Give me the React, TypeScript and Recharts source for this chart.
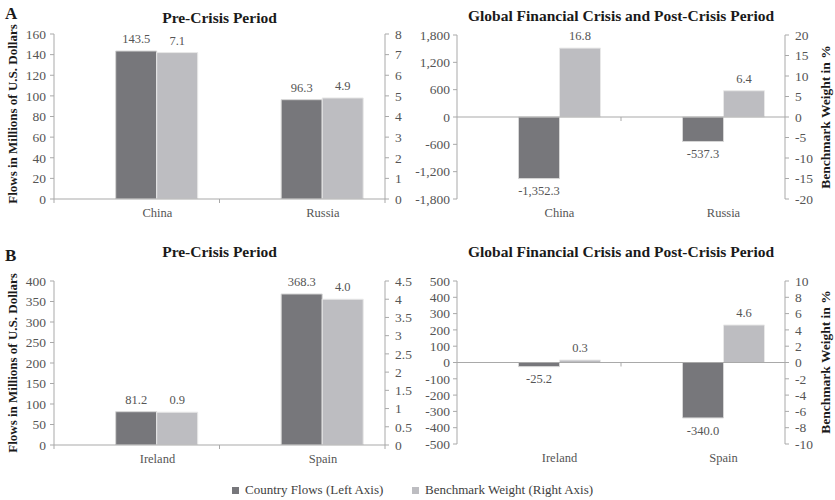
import React from 'react';
import { BarChart, Bar, XAxis, YAxis, LabelList, ReferenceLine } from 'recharts';

const FONT = '"Liberation Serif", "Times New Roman", serif';
const DARK = '#77777b';
const LIGHT = '#bdbdc1';
const AXIS = '#a9a9a9';
const TEXT = '#555555';

const seriesNames = ['Country Flows (Left Axis)', 'Benchmark Weight (Right Axis)'];
const panelLetters = ['A', 'B'];
const preTitle = 'Pre-Crisis Period';
const postTitle = 'Global Financial Crisis and Post-Crisis Period';
const leftAxisTitle = 'Flows in Millions of U.S. Dollars';
const rightAxisTitle = 'Benchmark Weight in %';

const countriesA = ['China', 'Russia'];
const flowsAPre = [143.5, 96.3];
const weightAPre = [7.1, 4.9];
const flowsAPost = [-1352.3, -537.3];
const weightAPost = [16.8, 6.4];

const countriesB = ['Ireland', 'Spain'];
const flowsBPre = [81.2, 368.3];
const weightBPre = [0.9, 4.0];
const flowsBPost = [-25.2, -340.0];
const weightBPost = [0.3, 4.6];

const ticksAPreLeft = [0, 20, 40, 60, 80, 100, 120, 140, 160];
const ticksAPreRight = [0, 1, 2, 3, 4, 5, 6, 7, 8];
const ticksAPostLeft = [-1800, -1200, -600, 0, 600, 1200, 1800];
const ticksAPostRight = [-20, -15, -10, -5, 0, 5, 10, 15, 20];
const ticksBPreLeft = [0, 50, 100, 150, 200, 250, 300, 350, 400];
const ticksBPreRight = [0, 0.5, 1, 1.5, 2, 2.5, 3, 3.5, 4, 4.5];
const ticksBPostLeft = [-500, -400, -300, -200, -100, 0, 100, 200, 300, 400, 500];
const ticksBPostRight = [-10, -8, -6, -4, -2, 0, 2, 4, 6, 8, 10];

const commaFmt = (v: any) => Number(v).toLocaleString('en-US');
const oneDec = (v: any) =>
  Number(v).toLocaleString('en-US', { minimumFractionDigits: 1, maximumFractionDigits: 1 });

type PanelProps = {
  left: number; top: number; W: number; H: number;
  plotLeft: number; plotRight: number; plotTop: number; plotBottom: number;
  categories: string[]; flows: number[]; weights: number[];
  leftTicks: number[]; rightTicks: number[]; crossesZero: boolean;
  leftMargin: number;
};

function Panel(p: PanelProps) {
  const data = p.categories.map((c, i) => ({ name: c, flows: p.flows[i], weight: p.weights[i] }));
  const band = (p.plotRight - p.plotLeft) / p.categories.length;
  const shift = band * 0.125;
  const lMin = p.leftTicks[0];
  const lMax = p.leftTicks[p.leftTicks.length - 1];
  const rMin = p.rightTicks[0];
  const rMax = p.rightTicks[p.rightTicks.length - 1];
  const zeroY = p.plotTop + ((p.plotBottom - p.plotTop) * lMax) / (lMax - lMin);
  const n = p.categories.length;

  const CatTick = (props: any) => {
    const { x, y, payload } = props;
    const idx = props.index ?? payload?.index ?? 0;
    const axisY = y - 9;
    return (
      <g>
        <text
          x={x + shift}
          y={y}
          dy="0.71em"
          textAnchor="middle"
          fill={TEXT}
          fontSize={12.5}
          fontFamily={FONT}
        >
          {payload.value}
        </text>
        {!p.crossesZero && (
          <line x1={x - band / 2} x2={x - band / 2} y1={axisY} y2={axisY + 4} stroke={AXIS} />
        )}
        {!p.crossesZero && idx === n - 1 && (
          <line x1={x + band / 2} x2={x + band / 2} y1={axisY} y2={axisY + 4} stroke={AXIS} />
        )}
        {p.crossesZero && idx < n - 1 && (
          <line x1={x + band / 2} x2={x + band / 2} y1={zeroY} y2={zeroY + 4} stroke={AXIS} />
        )}
      </g>
    );
  };

  const labelStyle = { fill: TEXT, fontSize: 12.5, fontFamily: FONT };

  return (
    <div style={{ position: 'absolute', left: p.left, top: p.top, width: p.W, height: p.H }}>
      <BarChart
        width={p.W}
        height={p.H}
        data={data}
        margin={{ top: p.plotTop, right: 0, bottom: 0, left: 0 }}
        barCategoryGap="12.5%"
        barGap={0}
      >
        <XAxis
          dataKey="name"
          xAxisId={0}
          height={p.H - p.plotBottom}
          interval={0}
          tickLine={false}
          tickSize={4}
          tickMargin={5}
          axisLine={p.crossesZero ? false : { stroke: AXIS }}
          tick={<CatTick />}
        />
        <YAxis
          yAxisId="left"
          orientation="left"
          type="number"
          width={p.plotLeft}
          domain={[lMin, lMax]}
          ticks={p.leftTicks}
          interval={0}
          allowDataOverflow
          tickFormatter={commaFmt}
          tick={{ fill: TEXT, fontSize: 13.5, fontFamily: FONT }}
          axisLine={{ stroke: AXIS }}
          tickLine={{ stroke: AXIS }}
          tickSize={4}
          tickMargin={p.leftMargin}
        />
        <YAxis
          yAxisId="right"
          orientation="right"
          type="number"
          width={p.W - p.plotRight}
          domain={[rMin, rMax]}
          ticks={p.rightTicks}
          interval={0}
          allowDataOverflow
          tick={{ fill: TEXT, fontSize: 13.5, fontFamily: FONT }}
          axisLine={{ stroke: AXIS }}
          tickLine={{ stroke: AXIS }}
          tickSize={4}
          tickMargin={6}
        />
        {p.crossesZero && <ReferenceLine y={0} yAxisId="left" stroke={AXIS} strokeWidth={1} />}
        <Bar dataKey="spacer" yAxisId="left" isAnimationActive={false} />
        <Bar dataKey="flows" yAxisId="left" fill={DARK} stroke="#d6d6d6" strokeWidth={1} isAnimationActive={false}>
          <LabelList dataKey="flows" position="top" offset={8} formatter={oneDec} style={labelStyle} />
        </Bar>
        <Bar dataKey="weight" yAxisId="right" fill={LIGHT} stroke="#e8e8e8" strokeWidth={1} isAnimationActive={false}>
          <LabelList dataKey="weight" position="top" offset={8} formatter={oneDec} style={labelStyle} />
        </Bar>
      </BarChart>
    </div>
  );
}

export default function App() {
  return (
    <div
      style={{
        position: 'absolute',
        left: 0,
        top: 0,
        width: 835,
        height: 500,
        background: '#ffffff',
        fontFamily: FONT,
      }}
    >
      <Panel
        left={0} top={0} W={415} H={240}
        plotLeft={54} plotRight={385} plotTop={34} plotBottom={199}
        categories={countriesA} flows={flowsAPre} weights={weightAPre}
        leftTicks={ticksAPreLeft} rightTicks={ticksAPreRight} crossesZero={false} leftMargin={4}
      />
      <Panel
        left={415} top={0} W={420} H={240}
        plotLeft={42} plotRight={370} plotTop={35} plotBottom={199}
        categories={countriesA} flows={flowsAPost} weights={weightAPost}
        leftTicks={ticksAPostLeft} rightTicks={ticksAPostRight} crossesZero={true} leftMargin={3}
      />
      <Panel
        left={0} top={240} W={415} H={235}
        plotLeft={54} plotRight={385} plotTop={41} plotBottom={205}
        categories={countriesB} flows={flowsBPre} weights={weightBPre}
        leftTicks={ticksBPreLeft} rightTicks={ticksBPreRight} crossesZero={false} leftMargin={4}
      />
      <Panel
        left={415} top={240} W={420} H={235}
        plotLeft={42} plotRight={370} plotTop={41} plotBottom={204}
        categories={countriesB} flows={flowsBPost} weights={weightBPost}
        leftTicks={ticksBPostLeft} rightTicks={ticksBPostRight} crossesZero={true} leftMargin={3}
      />
      <svg
        width={835}
        height={500}
        style={{ position: 'absolute', left: 0, top: 0, pointerEvents: 'none' }}
      >
        <g fontFamily={FONT} fill="#1a1a1a" fontWeight="bold">
          <text x={5} y={18.5} fontSize={17}>{panelLetters[0]}</text>
          <text x={5} y={261} fontSize={17}>{panelLetters[1]}</text>
          <text x={219.5} y={23} fontSize={15.5} textAnchor="middle">{preTitle}</text>
          <text x={621} y={20.5} fontSize={15.5} textAnchor="middle">{postTitle}</text>
          <text x={219.5} y={257} fontSize={15.5} textAnchor="middle">{preTitle}</text>
          <text x={621} y={256.5} fontSize={15.5} textAnchor="middle">{postTitle}</text>
          <text transform="translate(17,114) rotate(-90)" fontSize={13} textAnchor="middle">{leftAxisTitle}</text>
          <text transform="translate(17,363) rotate(-90)" fontSize={13} textAnchor="middle">{leftAxisTitle}</text>
          <text transform="translate(830,117) rotate(-90)" fontSize={13.5} textAnchor="middle">{rightAxisTitle}</text>
          <text transform="translate(830,362) rotate(-90)" fontSize={13.5} textAnchor="middle">{rightAxisTitle}</text>
        </g>
        <g fontFamily={FONT} fontSize={13} fill="#404040">
          <rect x={232} y={487} width={7} height={7} fill={DARK} />
          <text x={245} y={494}>{seriesNames[0]}</text>
          <rect x={412} y={487} width={7} height={7} fill={LIGHT} />
          <text x={425} y={494}>{seriesNames[1]}</text>
        </g>
      </svg>
    </div>
  );
}
